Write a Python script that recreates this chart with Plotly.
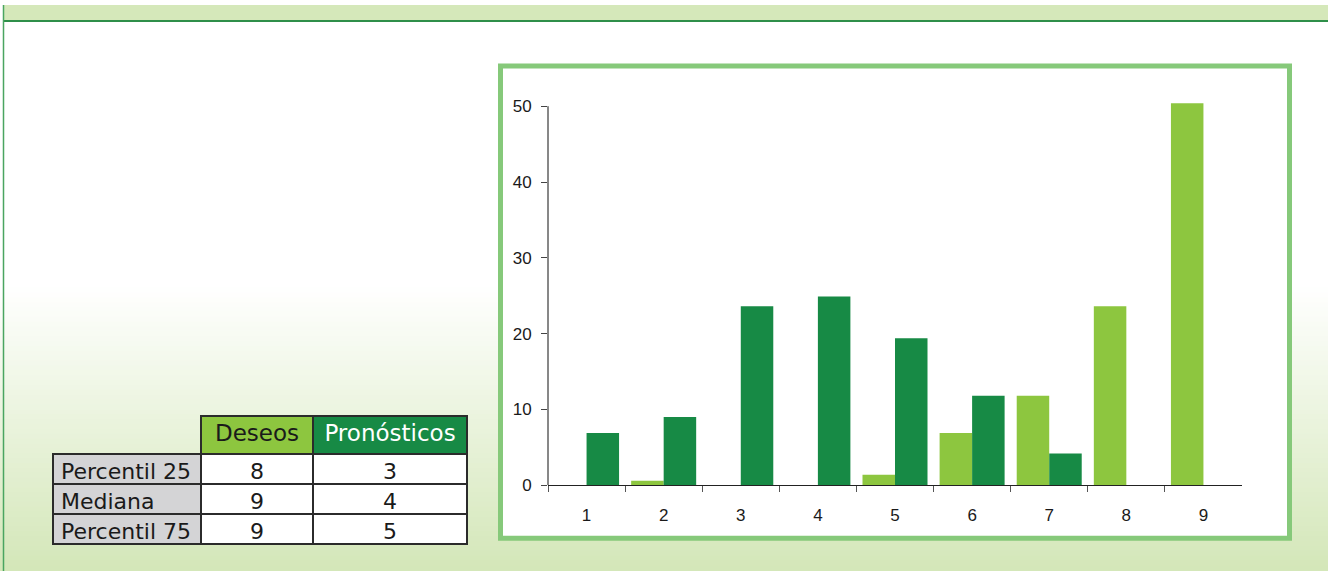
import plotly.graph_objects as go

# ---------------- data ----------------
categories = ['1', '2', '3', '4', '5', '6', '7', '8', '9']
deseos = [0, 0.6, 0, 0, 1.4, 6.9, 11.8, 23.6, 50.4]
pronosticos = [6.9, 9.0, 23.6, 24.9, 19.4, 11.8, 4.2, 0, 0]
y_ticks = [0, 10, 20, 30, 40, 50]

table_headers = ['', 'Deseos', 'Pronósticos']
table_row_labels = ['Percentil 25', 'Mediana', 'Percentil 75']
deseos_stats = [8, 9, 9]
pronosticos_stats = [3, 4, 5]

# ---------------- helpers ----------------
W, H = 1328, 581


def px(x):
    return x / W


def py(y):
    return 1 - y / H


LIGHT = '#8dc63f'
DARK = '#178a45'
BORDER = '#86c97a'
BAND = '#d5e8ba'
TFONT = 'DejaVu Sans'

# keep row labels on one line inside the table cells
row_labels_display = [s.replace(' ', '\u00a0') for s in table_row_labels]

fig = go.Figure()
fig.add_trace(go.Bar(x=categories, y=deseos, name='Deseos',
                     marker=dict(color=LIGHT, line=dict(width=0))))
fig.add_trace(go.Bar(x=categories, y=pronosticos, name='Pronósticos',
                     marker=dict(color=DARK, line=dict(width=0))))

fig.add_trace(go.Table(
    domain=dict(x=[px(53), px(467)], y=[py(565), py(422)]),
    columnwidth=[148, 112, 154],
    header=dict(
        values=table_headers,
        fill_color=['rgba(0,0,0,0)', LIGHT, DARK],
        line=dict(color=['rgba(0,0,0,0)', '#2b2b2b', '#2b2b2b'], width=1.5),
        font=dict(family=TFONT, size=23, color=['#1a1a1a', '#1a1a1a', 'white']),
        align='center', height=38),
    cells=dict(
        values=[row_labels_display, deseos_stats, pronosticos_stats],
        fill_color=['#d4d4d6', 'white', 'white'],
        line=dict(color='#2b2b2b', width=1.5),
        font=dict(family=TFONT, size=22, color='#1a1a1a'),
        align=['left', 'center', 'center'], height=30),
))

shapes = []
# gradient background bands
g0, g1 = 285, 575
c0 = (255, 255, 255)
c1 = (212, 231, 185)
step = 5
y = g0
while y < H:
    t = min(1.0, max(0.0, (y - g0) / (g1 - g0)))
    col = tuple(round(c0[i] + (c1[i] - c0[i]) * t) for i in range(3))
    shapes.append(dict(type='rect', xref='paper', yref='paper', layer='below',
                       x0=0, x1=1, y0=py(min(H, y + step + 1)), y1=py(y),
                       fillcolor='rgb(%d,%d,%d)' % col, line=dict(width=0)))
    y += step
# top band
shapes.append(dict(type='rect', xref='paper', yref='paper', layer='below',
                   x0=px(3.5), x1=1, y0=py(16), y1=1, fillcolor=BAND, line=dict(width=0)))
shapes.append(dict(type='line', xref='paper', yref='paper', layer='below',
                   x0=px(3.5), x1=1, y0=py(16.5), y1=py(16.5),
                   line=dict(color='#2f8f4a', width=2)))
shapes.append(dict(type='line', xref='paper', yref='paper', layer='below',
                   x0=px(3.5), x1=px(3.5), y0=0, y1=1,
                   line=dict(color='#4aa560', width=1.5)))
# chart box
shapes.append(dict(type='rect', xref='paper', yref='paper', layer='below',
                   x0=px(500.5), x1=px(1289.5), y0=py(547.5), y1=py(62.5),
                   fillcolor='white', line=dict(color=BORDER, width=5)))
# y axis line (up to 50)
shapes.append(dict(type='line', xref='paper', yref='y', layer='above',
                   x0=px(548), x1=px(548), y0=0, y1=50,
                   line=dict(color='#111111', width=1)))

fig.update_layout(
    width=W, height=H, autosize=False,
    margin=dict(l=0, r=0, t=0, b=0),
    paper_bgcolor='white', plot_bgcolor='rgba(0,0,0,0)',
    showlegend=False,
    barmode='group', bargap=0.157, bargroupgap=0,
    shapes=shapes,
    xaxis=dict(domain=[px(548), px(1242)], type='category', range=[-0.5, 8.5],
               showline=True, linecolor='#222222', linewidth=1,
               ticks='outside', tickson='boundaries', ticklen=6, tickcolor='#555555',
               tickfont=dict(family='Liberation Sans', size=17, color='#1a1a1a'),
               ticklabelstandoff=14, showgrid=False, zeroline=False, fixedrange=True),
    yaxis=dict(domain=[py(493), py(100)], range=[0, 50.5], tickvals=y_ticks,
               ticks='outside', ticklen=6, tickcolor='#444444',
               tickfont=dict(family='Liberation Sans', size=17, color='#1a1a1a'),
               ticklabelstandoff=6, showline=False, showgrid=False, zeroline=False,
               fixedrange=True),
)

fig.write_html(
    'out.html',
    config={'displayModeBar': False, 'staticPlot': True},
    post_script="document.body.style.margin='0';document.body.style.padding='0';"
                "document.body.style.overflow='hidden';",
)
